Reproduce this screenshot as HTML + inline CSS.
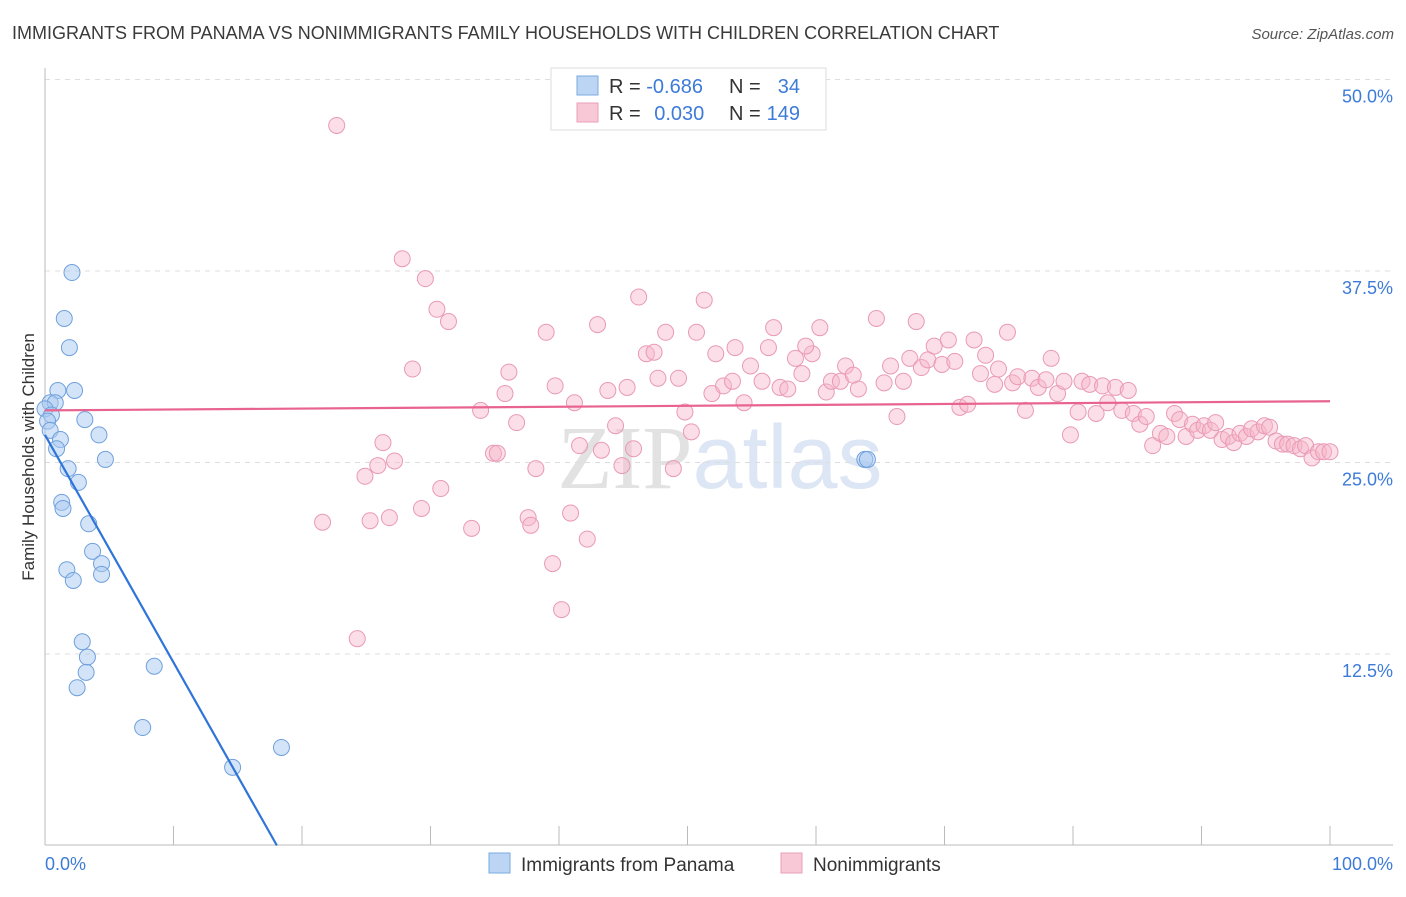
<!DOCTYPE html>
<html><head><meta charset="utf-8"><style>
body{margin:0;background:#fff;font-family:"Liberation Sans",sans-serif;}
svg text{font-family:"Liberation Sans",sans-serif;}
</style></head><body>
<svg id="chart" width="1406" height="892" xmlns="http://www.w3.org/2000/svg">
<text x="12" y="39" font-size="18" fill="#3a3a3a">IMMIGRANTS FROM PANAMA VS NONIMMIGRANTS FAMILY HOUSEHOLDS WITH CHILDREN CORRELATION CHART</text>
<text x="1394" y="39" font-size="15" fill="#555" text-anchor="end" font-style="italic">Source: ZipAtlas.com</text>
<text x="720" y="488" font-size="90" text-anchor="middle" fill="#d8d8d8" opacity="0.6"><tspan font-family="Liberation Serif" fill="#cfcfcf">ZIP</tspan><tspan fill="#c5d6ee">atlas</tspan></text>
<g id="grid"></g>
<g id="axes"></g>
<g id="pts"></g>
<g id="trends"></g>
<text transform="translate(34,457) rotate(-90)" font-size="17" fill="#333" text-anchor="middle">Family Households with Children</text>
<g>
<rect x="551" y="68" width="275" height="62" fill="#fff" stroke="#ddd"/>
<rect x="577" y="76" width="21" height="19" fill="#bcd5f5" stroke="#7aaae0"/>
<rect x="577" y="103" width="21" height="19" fill="#f8c8d6" stroke="#eaa0b8"/>
<text x="609" y="93" font-size="20" fill="#333">R = <tspan fill="#3d7bd9">-0.686</tspan></text>
<text x="729" y="93" font-size="20" fill="#333">N =</text><text x="800" y="93" font-size="20" fill="#3d7bd9" text-anchor="end">34</text>
<text x="609" y="120" font-size="20" fill="#333">R = <tspan fill="#3d7bd9" dx="8">0.030</tspan></text>
<text x="729" y="120" font-size="20" fill="#333">N =</text><text x="800" y="120" font-size="20" fill="#3d7bd9" text-anchor="end">149</text>
</g>
<g>
<rect x="489" y="853" width="21" height="20" fill="#bcd5f5" stroke="#7aaae0"/>
<text x="521" y="871" font-size="19" fill="#333">Immigrants from Panama</text>
<rect x="781" y="853" width="21" height="20" fill="#f8c8d6" stroke="#eaa0b8"/>
<text x="813" y="871" font-size="19" fill="#333">Nonimmigrants</text>
</g>
</svg>
<script>
const yTicks=[12.5,25,37.5,50];
const yTickLabels=["12.5%","25.0%","37.5%","50.0%"];
const xTicks=[0,10,20,30,40,50,60,70,80,90,100];
const blueX=[2.1,1.5,1.9,1.0,2.3,0.4,0.8,0,0.5,3.1,0.2,0.4,4.2,1.2,0.9,4.7,1.8,2.6,1.3,1.4,3.4,3.7,1.7,4.4,2.2,4.4,2.9,3.3,3.2,2.5,8.5,7.6,14.6,18.4,63.8,64.0];
const blueY=[37.4,34.4,32.5,29.7,29.7,28.9,28.9,28.5,28.1,27.8,27.7,27.1,26.8,26.5,25.9,25.2,24.6,23.7,22.4,22.0,21.0,19.2,18.0,18.4,17.3,17.7,13.3,12.3,11.3,10.3,11.7,7.7,5.1,6.4,25.2,25.2];
const pinkX=[22.7,27.8,29.6,30.5,31.4,28.6,39.0,43.0,46.2,51.3,36.1,33.9,35.8,36.7,39.7,41.2,43.8,45.3,46.8,47.4,47.7,48.3,49.3,50.7,52.2,51.9,52.8,53.5,54.4,54.9,53.7,55.8,56.7,56.3,57.2,57.8,58.4,58.9,59.7,60.3,59.2,60.8,61.2,61.9,62.3,63.3,62.9,64.7,65.8,65.3,66.3,66.8,67.3,67.8,68.2,68.7,69.2,69.8,70.3,70.8,71.2,71.8,72.3,72.8,73.2,73.9,74.2,74.9,75.3,75.7,76.3,76.8,77.3,77.9,78.3,78.8,79.3,79.8,80.4,80.7,81.3,81.8,82.3,82.7,83.3,83.8,84.3,84.7,85.2,85.7,86.2,86.8,87.3,87.9,88.3,88.8,89.3,89.7,90.2,90.7,91.1,91.6,92.1,92.5,93.0,93.5,93.9,94.4,94.9,95.3,95.8,96.3,96.7,97.2,97.7,98.1,98.6,99.1,99.5,100,21.6,24.9,25.3,25.9,26.3,26.8,27.2,29.3,30.8,33.2,34.9,35.2,37.6,37.8,38.2,39.5,40.2,40.9,41.6,42.2,43.3,44.4,44.9,45.8,48.9,49.8,50.3,24.3];
const pinkY=[47.0,38.3,37.0,35.0,34.2,31.1,33.5,34.0,35.8,35.6,30.9,28.4,29.5,27.6,30.0,28.9,29.7,29.9,32.1,32.2,30.5,33.5,30.5,33.5,32.1,29.5,30.0,30.3,28.9,31.3,32.5,30.3,33.8,32.5,29.9,29.8,31.8,30.8,32.1,33.8,32.6,29.6,30.3,30.3,31.3,29.8,30.7,34.4,31.3,30.2,28.0,30.3,31.8,34.2,31.2,31.7,32.6,31.4,33.0,31.6,28.6,28.8,33.0,30.8,32.0,30.1,31.1,33.5,30.2,30.6,28.4,30.5,29.9,30.4,31.8,29.5,30.3,26.8,28.3,30.3,30.1,28.2,30.0,28.9,29.9,28.4,29.7,28.2,27.5,28.0,26.1,26.9,26.7,28.2,27.8,26.7,27.5,27.1,27.4,27.1,27.6,26.5,26.7,26.3,26.9,26.7,27.2,27.0,27.4,27.3,26.4,26.2,26.2,26.1,25.9,26.1,25.3,25.7,25.7,25.7,21.1,24.1,21.2,24.8,26.3,21.4,25.1,22.0,23.3,20.7,25.6,25.6,21.4,20.9,24.6,18.4,15.4,21.7,26.1,20.0,25.8,27.4,24.8,25.9,24.6,28.3,27.0,13.5];
const blueTrend=[26.8,-1.485];
const pinkTrend=[28.4,0.006];

const NS="http://www.w3.org/2000/svg";
const X0=45,X1=1330,Y0=845.5,YSCALE=15.32;
function sx(v){return X0+(X1-X0)*v/100;}
function sy(v){return Y0-v*YSCALE;}
function mk(tag,attrs,parent){const e=document.createElementNS(NS,tag);for(const k in attrs)e.setAttribute(k,attrs[k]);document.getElementById(parent).appendChild(e);return e;}

yTicks.forEach((t,i)=>{
  const l=mk('line',{x1:45,x2:1393,y1:sy(t),y2:sy(t),stroke:'#ddd','stroke-dasharray':'5,5'},'grid');
  
  
  const tx=mk('text',{x:1393,y:sy(t)+23,'font-size':18,fill:'#3d7bd9','text-anchor':'end'},'grid');
  tx.textContent=yTickLabels[i];
  
  
});
const ax=mk('line',{x1:45,x2:1393,y1:845,y2:845,stroke:'#bbb'},'axes');


const ay=mk('line',{x1:45,x2:45,y1:68,y2:845,stroke:'#bbb'},'axes');


xTicks.forEach(t=>{
  if(t===0)return;
  const l=mk('line',{x1:sx(t),x2:sx(t),y1:826,y2:845,stroke:'#bbb'},'axes');
  
  
});
const xl0=mk('text',{x:45,y:870,'font-size':18,fill:'#3d7bd9'},'axes');xl0.textContent='0.0%';


const xl1=mk('text',{x:1393,y:870,'font-size':18,fill:'#3d7bd9','text-anchor':'end'},'axes');xl1.textContent='100.0%';



pinkX.forEach((x,i)=>{
  const c=mk('circle',{cx:sx(x),cy:sy(pinkY[i]),r:8,fill:'rgba(246,182,202,0.45)',stroke:'#e99ab5','stroke-width':1},'pts');
  
  
});
blueX.forEach((x,i)=>{
  const c=mk('circle',{cx:sx(x),cy:sy(blueY[i]),r:8,fill:'rgba(170,202,242,0.5)',stroke:'#6fa0dc','stroke-width':1},'pts');
  
  
});
const bEnd=-blueTrend[0]/blueTrend[1];
const bl=mk('line',{x1:sx(0),y1:sy(blueTrend[0]),x2:sx(bEnd),y2:sy(0),stroke:'#2f74d8','stroke-width':2.2},'trends');


const pl=mk('line',{x1:sx(0),y1:sy(pinkTrend[0]),x2:sx(100),y2:sy(pinkTrend[0]+pinkTrend[1]*100),stroke:'#e8638f','stroke-width':2.2},'trends');


</script>
</body></html>
